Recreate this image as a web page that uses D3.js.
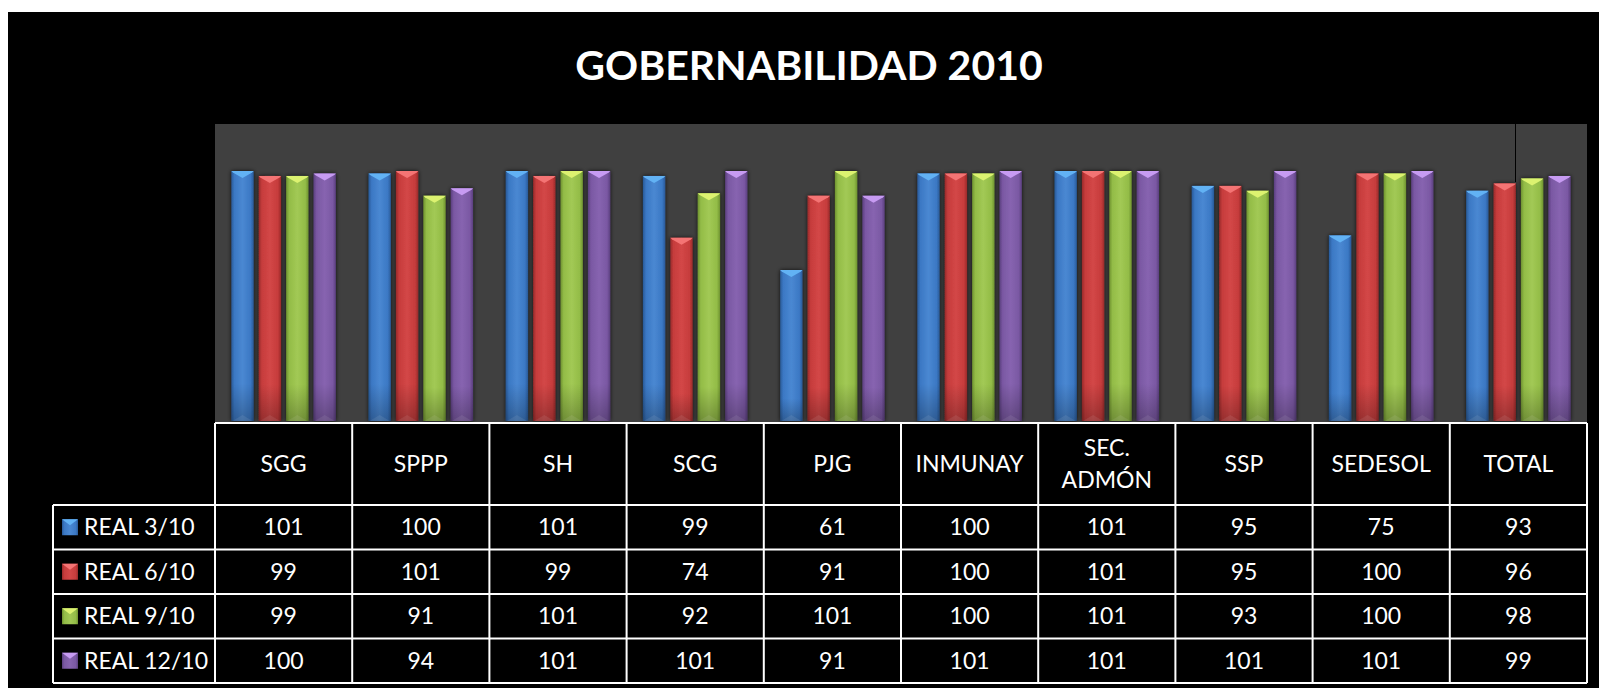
<!DOCTYPE html>
<html>
<head>
<meta charset="utf-8">
<script src="https://cdn.jsdelivr.net/npm/d3@7"></script>
<style>
  html, body { margin: 0; padding: 0; background: #ffffff; }
  svg { display: block; }
  text { font-family: Lato, "Open Sans", sans-serif; }
</style>
</head>
<body>
<svg id="chart" width="1599" height="688"></svg>
<script>
// ---------------- DATA ----------------
const title = "GOBERNABILIDAD 2010";
const categories = ["SGG", "SPPP", "SH", "SCG", "PJG", "INMUNAY", "SEC. ADMÓN", "SSP", "SEDESOL", "TOTAL"];
const seriesNames = ["REAL 3/10", "REAL 6/10", "REAL 9/10", "REAL 12/10"];
const real3  = [101, 100, 101,  99,  61, 100, 101,  95,  75, 93];
const real6  = [ 99, 101,  99,  74,  91, 100, 101,  95, 100, 96];
const real9  = [ 99,  91, 101,  92, 101, 100, 101,  93, 100, 98];
const real12 = [100,  94, 101, 101,  91, 101, 101, 101, 101, 99];
const seriesValues = [real3, real6, real9, real12];
const yDomain = [0, 120];

// ---------------- STYLE ----------------
const palette = [
  { base: "#3b78c4", dark: "#295a98", light: "#4a88d2", cap: "#62b2f4" },
  { base: "#c63c3c", dark: "#992a2a", light: "#d34747", cap: "#f47474" },
  { base: "#93bc47", dark: "#6f9330", light: "#a2c955", cap: "#dcf270" },
  { base: "#7a58a3", dark: "#5b3f7f", light: "#8764b0", cap: "#c79bf2" }
];

const W = 1599, H = 688;
const plot = { x0: 215, x1: 1587, top: 124, bottom: 423 };
const table = { legX: 53, x0: 215, x1: 1587, headTop: 423, headBottom: 505, rowH: 44.5 };
const fontSize = 23;
const capH = fontSize * 0.7165;

const svg = d3.select("#chart");

// black background card
svg.append("rect").attr("x", 8).attr("y", 12).attr("width", W - 8).attr("height", H - 12).attr("fill", "#000");

// defs
const defs = svg.append("defs");
palette.forEach((p, i) => {
  const g = defs.append("linearGradient").attr("id", "grad" + i)
    .attr("x1", "0").attr("x2", "1").attr("y1", "0").attr("y2", "0");
  g.append("stop").attr("offset", "0%").attr("stop-color", p.dark);
  g.append("stop").attr("offset", "14%").attr("stop-color", p.base);
  g.append("stop").attr("offset", "50%").attr("stop-color", p.light);
  g.append("stop").attr("offset", "86%").attr("stop-color", p.base);
  g.append("stop").attr("offset", "100%").attr("stop-color", p.dark);
  const v = defs.append("linearGradient").attr("id", "vgrad" + i)
    .attr("x1", "0").attr("x2", "0").attr("y1", "0").attr("y2", "1");
  v.append("stop").attr("offset", "0%").attr("stop-color", "#000").attr("stop-opacity", 0);
  v.append("stop").attr("offset", "85%").attr("stop-color", "#000").attr("stop-opacity", 0);
  v.append("stop").attr("offset", "100%").attr("stop-color", "#000").attr("stop-opacity", 0.25);
});
const f = defs.append("filter").attr("id", "shadow").attr("x", "-30%").attr("y", "-10%").attr("width", "160%").attr("height", "120%");
f.append("feGaussianBlur").attr("in", "SourceAlpha").attr("stdDeviation", 2.2).attr("result", "b");
f.append("feOffset").attr("in", "b").attr("dx", 0).attr("dy", 0).attr("result", "o");
f.append("feComponentTransfer").attr("in", "o").attr("result", "s")
  .append("feFuncA").attr("type", "linear").attr("slope", 0.8);
const fm = f.append("feMerge");
fm.append("feMergeNode").attr("in", "s");
fm.append("feMergeNode").attr("in", "SourceGraphic");

// title
svg.append("text").attr("x", 809).attr("y", 80)
  .attr("text-anchor", "middle").attr("fill", "#fff")
  .attr("font-weight", 700).attr("font-size", 41)
  .text(title);

// plot area
svg.append("rect").attr("x", plot.x0).attr("y", plot.top)
  .attr("width", plot.x1 - plot.x0).attr("height", plot.bottom - plot.top)
  .attr("fill", "#404040");

// scales
const x = d3.scaleBand().domain(categories).range([plot.x0, plot.x1]).paddingInner(0).paddingOuter(0);
const xs = d3.scaleBand().domain(d3.range(seriesNames.length)).range([0, x.bandwidth()])
  .paddingInner(0.186).paddingOuter(0.597);
const y = d3.scaleLinear().domain(yDomain).range([421, plot.top]);

// artifact line in TOTAL column
svg.append("line").attr("x1", 1515.5).attr("x2", 1515.5).attr("y1", plot.top).attr("y2", 182)
  .attr("stroke", "#000").attr("stroke-width", 1);

// bars
const bw = xs.bandwidth();
seriesValues.forEach((vals, si) => {
  const g = svg.append("g").attr("class", "series");
  const bars = g.selectAll("g.bar").data(vals.map((v, ci) => ({ v, c: categories[ci] })))
    .join("g").attr("class", "bar")
    .attr("transform", d => `translate(${x(d.c) + xs(si)},0)`);
  bars.append("rect")
    .attr("x", 0).attr("y", d => y(d.v)).attr("width", bw).attr("height", d => y(0) - y(d.v))
    .attr("fill", `url(#grad${si})`).attr("filter", "url(#shadow)");
  bars.append("rect")
    .attr("x", 0).attr("y", d => y(d.v)).attr("width", bw).attr("height", d => y(0) - y(d.v))
    .attr("fill", `url(#vgrad${si})`);
  // top cap triangle
  bars.append("path")
    .attr("d", d => { const t = y(d.v); return `M0,${t} L${bw},${t} L${bw - 1.5},${t + 1.5} L${bw / 2},${t + 7} L1.5,${t + 1.5} Z`; })
    .attr("fill", palette[si].cap);
  // subtle bottom bevel
  bars.append("path")
    .attr("d", d => { const b = y(0); return `M1,${b} L${bw - 1},${b} L${bw / 2},${b - 6} Z`; })
    .attr("fill", "#fff").attr("opacity", 0.08);
});

// table
const tg = svg.append("g").attr("class", "table");
const white = "#ffffff";
const lw = 2;
const rowTop = i => table.headBottom + i * table.rowH;
// header horizontal lines
tg.append("line").attr("x1", table.x0).attr("x2", table.x1).attr("y1", table.headTop).attr("y2", table.headTop)
  .attr("stroke", white).attr("stroke-width", lw);
for (let i = 0; i <= seriesNames.length; i++) {
  tg.append("line").attr("x1", table.legX).attr("x2", table.x1).attr("y1", rowTop(i)).attr("y2", rowTop(i))
    .attr("stroke", white).attr("stroke-width", lw);
}
// vertical lines
const bottomY = rowTop(seriesNames.length);
tg.append("line").attr("x1", table.legX).attr("x2", table.legX).attr("y1", table.headBottom).attr("y2", bottomY)
  .attr("stroke", white).attr("stroke-width", lw);
categories.forEach(c => {
  tg.append("line").attr("x1", x(c)).attr("x2", x(c)).attr("y1", table.headTop).attr("y2", bottomY)
    .attr("stroke", white).attr("stroke-width", lw);
});
tg.append("line").attr("x1", table.x1).attr("x2", table.x1).attr("y1", table.headTop).attr("y2", bottomY)
  .attr("stroke", white).attr("stroke-width", lw);

// header labels
categories.forEach(c => {
  const cx = x(c) + x.bandwidth() / 2;
  const cy = (table.headTop + table.headBottom) / 2;
  const lines = c.split(" ");
  const lh = 31.7;
  const t = tg.append("text").attr("text-anchor", "middle").attr("fill", white).attr("font-size", fontSize);
  lines.forEach((ln, i) => {
    t.append("tspan").attr("x", cx)
      .attr("y", cy + capH / 2 + (i - (lines.length - 1) / 2) * lh)
      .text(ln);
  });
});

// rows
seriesNames.forEach((name, si) => {
  const cy = rowTop(si) + table.rowH / 2;
  // legend marker
  const mx = 62, my = cy - 8, ms = 16;
  tg.append("rect").attr("x", mx).attr("y", my).attr("width", ms).attr("height", ms)
    .attr("fill", `url(#grad${si})`);
  tg.append("path").attr("d", `M${mx},${my} L${mx + ms},${my} L${mx + ms / 2},${my + 6} Z`)
    .attr("fill", palette[si].cap);
  tg.append("text").attr("x", 84).attr("y", cy + capH / 2).attr("fill", white)
    .attr("font-size", fontSize).text(name);
  seriesValues[si].forEach((v, ci) => {
    tg.append("text").attr("x", x(categories[ci]) + x.bandwidth() / 2).attr("y", cy + capH / 2)
      .attr("text-anchor", "middle").attr("fill", white).attr("font-size", fontSize).text(v);
  });
});
</script>
</body>
</html>
